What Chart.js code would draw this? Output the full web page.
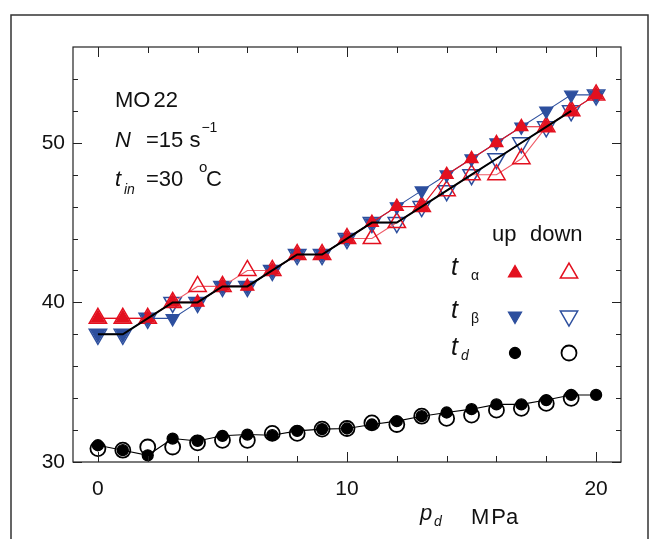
<!DOCTYPE html>
<html>
<head>
<meta charset="utf-8">
<script src="https://cdn.jsdelivr.net/npm/chart.js@4/dist/chart.umd.min.js"></script>
<style>
  body { margin: 0; background: #fff; }
  #wrap { width: 656px; height: 539px; }
</style>
</head>
<body>
<div id="wrap"><canvas id="chart" width="656" height="539"></canvas></div>
<script>
// pressure p_d (MPa) and measured temperatures (°C)
const pd = [0, 1, 2, 3, 4, 5, 6, 7, 8, 9, 10, 11, 12, 13, 14, 15, 16, 17, 18, 19, 20];
const alphaUp   = [39, 39, 39, 40, 40, 41, 41, 42, 43, 43, 44, 45, 46, 46, 48, 49, 50, 51, 51, 52, 53];
const alphaDown = [39, 39, 39, 40, 41, 41, 42, 42, 43, 43, 44, 44, 45, 46, 47, 48, 48, 49, 51, 52, 53];
const betaUp    = [38, 38, 39, 39, 40, 41, 41, 42, 43, 43, 44, 45, 46, 47, 48, 49, 50, 51, 52, 53, 53];
const betaDown  = [38, 38, 39, 40, 40, 41, 41, 42, 43, 43, 44, 45, 45, 46, 47, 48, 49, 50, 51, 52, 53];
const meanLine  = [38, 38, 39, 40, 40, 41, 41, 42, 43, 43, 44, 45, 45, 46, 47, 48, 49, 50, 51, 52];
const tdUp   = [31.05, 30.74, 30.42, 31.47, 31.32, 31.64, 31.72, 31.68, 31.95, 32.06, 32.1,
                32.35, 32.56, 32.87, 33.1, 33.31, 33.61, 33.61, 33.88, 34.2, 34.2];
const tdDown = [30.84, 30.74, 30.94, 30.94, 31.2, 31.36, 31.36, 31.79, 31.79, 32.06, 32.1,
                32.45, 32.35, 32.87, 32.73, 32.94, 33.25, 33.36, 33.67, 33.99];
const xTicks = [0, 2, 4, 6, 8, 10, 12, 14, 16, 18, 20];
const yTicks = [30, 32, 34, 36, 38, 40, 42, 44, 46, 48, 50, 52, 54];

const RED = '#e3101f';
const RED_LIGHT = '#ee5a66';
const BLUE = '#2d4f9e';
const FONT = '"Liberation Sans", Arial, sans-serif';

function pts(ys) {
  return ys.map((y, i) => ({ x: pd[i], y: y }));
}

function ds(label, data, opts) {
  return Object.assign({
    label: label,
    data: pts(data),
    showLine: true,
    borderWidth: 1.1,
    tension: 0,
    pointBorderWidth: 1.3
  }, opts);
}

const datasets = [
  ds('mean', meanLine, { borderColor: '#000', borderWidth: 2, pointRadius: 0 }),
  ds('td up', tdUp, { borderColor: '#000', pointStyle: 'circle', pointRadius: 5.5,
    pointBackgroundColor: '#000', pointBorderColor: '#000' }),
  ds('alpha up', alphaUp, { borderColor: RED, pointStyle: 'triangle', pointRadius: 7.5,
    pointBackgroundColor: RED, pointBorderColor: RED }),
  ds('beta up', betaUp, { borderColor: BLUE, pointStyle: 'triangle', pointRotation: 180, pointRadius: 7.5,
    pointBackgroundColor: BLUE, pointBorderColor: BLUE }),
  ds('td down', tdDown, { borderColor: 'rgba(0,0,0,0)', pointStyle: 'circle', pointRadius: 7.5,
    pointBackgroundColor: 'rgba(255,255,255,0)', pointBorderColor: '#000', pointBorderWidth: 1.8 }),
  ds('alpha down', alphaDown, { borderColor: RED_LIGHT, pointStyle: 'triangle', pointRadius: 10,
    pointBackgroundColor: 'rgba(255,255,255,0)', pointBorderColor: RED, pointBorderWidth: 1.5 }),
  ds('beta down', betaDown, { borderColor: BLUE, pointStyle: 'triangle', pointRotation: 180, pointRadius: 10,
    pointBackgroundColor: 'rgba(255,255,255,0)', pointBorderColor: BLUE, pointBorderWidth: 1.5 })
];

function txt(ctx, s, x, y, size, italic, align) {
  ctx.font = (italic ? 'italic ' : '') + size + 'px ' + FONT;
  ctx.textAlign = align || 'left';
  ctx.textBaseline = 'middle';
  ctx.fillText(s, x, y);
  return ctx.measureText(s).width;
}

const decorations = {
  id: 'decorations',
  afterDraw(chart) {
    const ctx = chart.ctx;
    const a = chart.chartArea;
    const xs = chart.scales.x, ys = chart.scales.y;
    ctx.save();
    // outer frame
    ctx.strokeStyle = '#333';
    ctx.lineWidth = 1.5;
    ctx.beginPath();
    ctx.moveTo(11, 540); ctx.lineTo(11, 15); ctx.lineTo(648, 15); ctx.lineTo(648, 540);
    ctx.stroke();
    // plot box
    ctx.strokeStyle = '#222';
    ctx.lineWidth = 1.2;
    ctx.strokeRect(a.left, a.top, a.right - a.left, a.bottom - a.top);
    // inward ticks
    ctx.lineWidth = 1;
    ctx.beginPath();
    xTicks.forEach(v => {
      const px = Math.round(xs.getPixelForValue(v)) + 0.5;
      const len = v % 10 === 0 ? 10 : 6;
      ctx.moveTo(px, a.bottom); ctx.lineTo(px, a.bottom - len);
      ctx.moveTo(px, a.top); ctx.lineTo(px, a.top + len);
    });
    yTicks.forEach(v => {
      const py = Math.round(ys.getPixelForValue(v)) + 0.5;
      const len = v % 10 === 0 ? 9 : 5;
      ctx.moveTo(a.left, py); ctx.lineTo(a.left + len, py);
      ctx.moveTo(a.right, py); ctx.lineTo(a.right - len, py);
    });
    ctx.stroke();

    ctx.fillStyle = '#111';
    // sample info
    let w = txt(ctx, 'MO', 115, 101, 22, false);
    txt(ctx, '22', 115 + w + 3, 101, 22, false);
    txt(ctx, 'N', 115, 141, 22, true);
    w = txt(ctx, '=15 s', 146, 141, 22, false);
    txt(ctx, '\u22121', 146 + w + 1, 128, 14, false);
    txt(ctx, 't', 115, 180, 22, true);
    txt(ctx, 'in', 124, 190, 14, true);
    txt(ctx, '=30', 146, 180, 22, false);
    txt(ctx, 'o', 199, 168, 15, false);
    txt(ctx, 'C', 206, 180, 22, false);

    // legend
    txt(ctx, 'up', 492, 235, 22, false);
    txt(ctx, 'down', 530, 235, 22, false);
    const rows = [
      { sub: '\u03b1', subItalic: false, subX: 471, y: 269, up: datasets[2], down: datasets[5] },
      { sub: '\u03b2', subItalic: false, subX: 471, y: 312, up: datasets[3], down: datasets[6] },
      { sub: 'd', subItalic: true, subX: 461, y: 349, up: datasets[1], down: datasets[4] }
    ];
    rows.forEach(r => {
      ctx.fillStyle = '#111';
      txt(ctx, 't', 451, r.y - 1, 25, true);
      txt(ctx, r.sub, r.subX, r.y + 7, 14, r.subItalic);
      [[r.up, 515, r.up.pointRadius], [r.down, 569, r.down.pointRadius]].forEach(m => {
        const d = m[0];
        ctx.fillStyle = d.pointBackgroundColor;
        ctx.strokeStyle = d.pointBorderColor;
        ctx.lineWidth = d.pointBorderWidth;
        Chart.helpers.drawPoint(ctx, {
          pointStyle: d.pointStyle, rotation: d.pointRotation || 0,
          radius: m[2], borderWidth: d.pointBorderWidth
        }, m[1], r.y + 4);
      });
    });

    // axis title
    ctx.fillStyle = '#111';
    txt(ctx, 'p', 420, 514, 22, true);
    txt(ctx, 'd', 434, 522, 14, true);
    w = txt(ctx, 'M', 471, 518, 22, false);
    txt(ctx, 'Pa', 471 + w + 2, 518, 22, false);
    ctx.restore();
  }
};

new Chart(document.getElementById('chart'), {
  type: 'scatter',
  data: { datasets: datasets },
  options: {
    responsive: false,
    animation: false,
    layout: { padding: { top: 47, right: 35, left: 0, bottom: 0 } },
    plugins: { legend: { display: false }, tooltip: { enabled: false } },
    scales: {
      x: {
        type: 'linear', min: -1, max: 21,
        afterBuildTicks: s => { s.ticks = xTicks.map(v => ({ value: v })); },
        afterFit: s => { s.height = 77; },
        grid: { display: false, drawTicks: false },
        border: { display: false },
        ticks: {
          autoSkip: false, maxRotation: 0, padding: 15, color: '#111',
          font: { family: FONT, size: 21 },
          callback: v => (v % 10 === 0 ? String(v) : '')
        }
      },
      y: {
        type: 'linear', min: 30, max: 56,
        afterBuildTicks: s => { s.ticks = yTicks.map(v => ({ value: v })); },
        afterFit: s => { s.width = 73; },
        grid: { display: false, drawTicks: false },
        border: { display: false },
        ticks: {
          autoSkip: false, padding: 8, color: '#111',
          font: { family: FONT, size: 21 },
          callback: v => (v % 10 === 0 ? String(v) : '')
        }
      }
    }
  },
  plugins: [decorations]
});
</script>
</body>
</html>
